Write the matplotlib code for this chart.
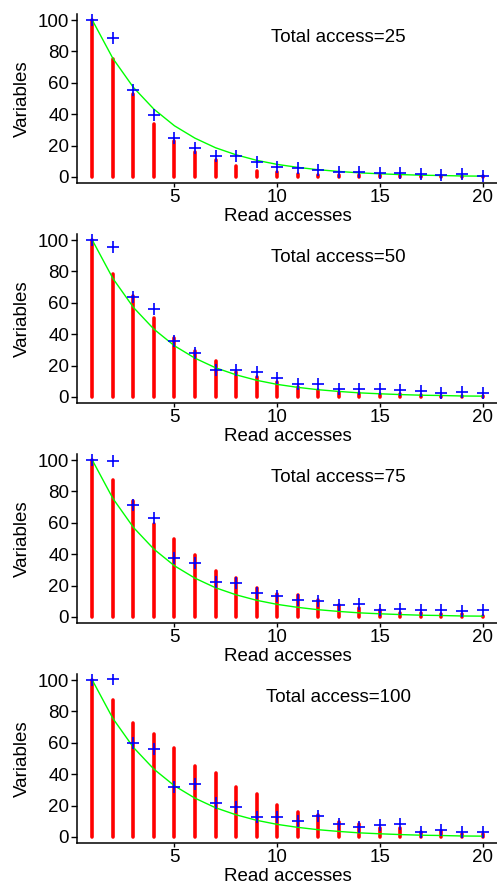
import matplotlib
matplotlib.use("Agg")
import matplotlib.pyplot as plt
import numpy as np

plt.rcParams["font.family"] = ["Liberation Sans", "DejaVu Sans"]
plt.rcParams["font.size"] = 13.5

# Read accesses 1..20
reads = np.arange(1, 21)

# Fitted curve (same in every panel)
fit = [100, 75.6, 57.1, 43.2, 32.6, 24.7, 18.6, 14.1, 10.6, 8.0,
       6.1, 4.6, 3.5, 2.6, 2.0, 1.5, 1.1, 0.9, 0.6, 0.5]

totals = [25, 50, 75, 100]

# Red bars (simulated) per panel
bars_25 = [100, 74.9, 52.8, 34, 22.8, 16, 11, 7, 4, 3.2,
           2, 1, 1, 1, 1, 1.3, 0.3, 0.3, 0.3, 0.3]
bars_50 = [100, 78.6, 64.3, 50.4, 37.4, 29.1, 23.1, 15.6, 12.8, 9.6,
           6.6, 4.5, 3, 2.8, 2.1, 1.7, 1, 0.8, 0.8, 0.6]
bars_75 = [100, 87.6, 73.7, 59.4, 49.8, 39.5, 29.5, 24.6, 18.4, 14.5,
           13.9, 10.9, 7.5, 5.6, 4.3, 2.8, 2.8, 1.7, 1.7, 0.9]
bars_100 = [100, 87.6, 72.6, 65.4, 56.6, 45.5, 40.6, 31.6, 27.4, 20.5,
            16.2, 14.1, 9.6, 8.5, 5.6, 5.6, 3.4, 3.8, 1.7, 1.7]

# Blue crosses (measured) per panel
pts_25 = [100, 88.7, 55.3, 39.4, 25.1, 18.5, 13.4, 13.2, 9.6, 6.4,
          5.7, 4.7, 3.2, 3, 2.3, 2.3, 1.7, 1.3, 1.7, 0.6]
pts_50 = [100, 95.7, 63.7, 55.8, 35.9, 28, 17.3, 17.3, 15.8, 12.2,
          8.1, 8.3, 4.9, 5.3, 5.1, 4.5, 3.8, 2.6, 3.2, 2.6]
pts_75 = [100, 99.4, 71.6, 63.2, 37.6, 34.2, 22, 21.4, 15.2, 13.5,
          11.1, 10, 7.5, 8.1, 4.3, 5.3, 4.7, 4.3, 3.6, 4.3]
pts_100 = [100, 100.9, 59.8, 55.8, 31.6, 33.8, 21.4, 18.8, 12.4, 12.4,
           10, 13.2, 8.1, 6.4, 7.5, 8.1, 3.2, 4.5, 3.4, 3.2]

bars = [bars_25, bars_50, bars_75, bars_100]
pts = [pts_25, pts_50, pts_75, pts_100]

fig = plt.figure(figsize=(4.97, 8.85), dpi=100)

left, width = 0.1543, 0.848
height = 169.4 / 885
for i in range(4):
    top_px = 13.8 + 220 * i
    bottom = 1 - (top_px + 169.4) / 885
    ax = fig.add_axes([left, bottom, width, height])

    ax.vlines(reads, 0, bars[i], color="#ff0000", lw=2.6, capstyle="round", zorder=2)
    ax.plot(reads, fit, color="#00ff00", lw=1.0, zorder=3)
    ax.plot(reads, pts[i], "+", color="#0000ff", ms=8.5, mew=1.2, zorder=4)

    ax.text(13, 89, f"Total access={totals[i]}", ha="center", va="center")

    ax.set_xlim(1 - 0.76, 20 + 0.76)
    ax.set_ylim(-4, 104)
    ax.set_xticks([5, 10, 15, 20])
    ax.set_yticks([0, 20, 40, 60, 80, 100])

    for s in ["top", "right"]:
        ax.spines[s].set_visible(False)
    for s in ["left", "bottom"]:
        ax.spines[s].set_linewidth(1.1)
    ax.tick_params(axis="y", length=4, width=1.0, pad=1.5)
    ax.tick_params(axis="x", length=3, width=1.0, pad=1.5)

    ax.set_xlabel("Read accesses", labelpad=1)
    ax.set_ylabel("Variables", labelpad=5)

fig.savefig("out.png", dpi=100)
